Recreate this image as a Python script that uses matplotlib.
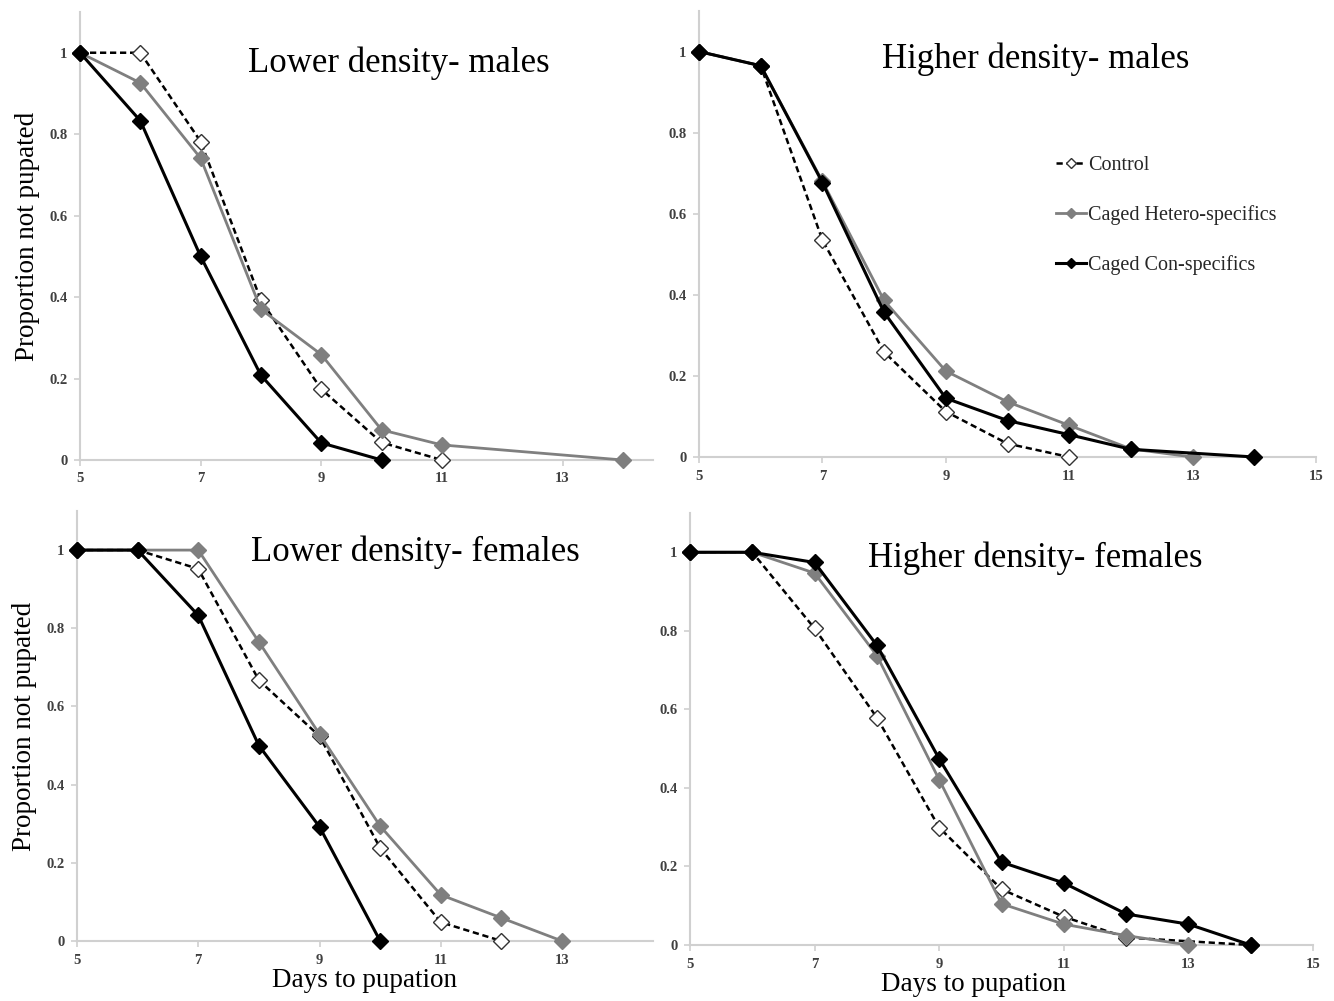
import matplotlib
matplotlib.use("Agg")
import matplotlib.pyplot as plt

plt.rcParams['font.family'] = ['Liberation Serif', 'DejaVu Serif']

# ---- data ----
# Lower density - males
ldm_ctrl_x = [5, 6, 7, 8, 9, 10, 11]
ldm_ctrl_y = [1, 1, 0.782, 0.392, 0.174, 0.043, 0]
ldm_het_x = [5, 6, 7, 8, 9, 10, 11, 14]
ldm_het_y = [1, 0.926, 0.741, 0.370, 0.259, 0.074, 0.037, 0]
ldm_con_x = [5, 6, 7, 8, 9, 10]
ldm_con_y = [1, 0.833, 0.5, 0.208, 0.042, 0]

# Higher density - males
hdm_ctrl_x = [5, 6, 7, 8, 9, 10, 11]
hdm_ctrl_y = [1, 0.965, 0.535, 0.259, 0.112, 0.033, 0]
hdm_het_x = [5, 6, 7, 8, 9, 10, 11, 12, 13]
hdm_het_y = [1, 0.965, 0.68, 0.386, 0.212, 0.136, 0.078, 0.02, 0]
hdm_con_x = [5, 6, 7, 8, 9, 10, 11, 12, 14]
hdm_con_y = [1, 0.965, 0.677, 0.357, 0.145, 0.09, 0.055, 0.019, 0]

# Lower density - females
ldf_ctrl_x = [5, 6, 7, 8, 9, 10, 11, 12]
ldf_ctrl_y = [1, 1, 0.952, 0.667, 0.524, 0.238, 0.048, 0]
ldf_het_x = [5, 6, 7, 8, 9, 10, 11, 12, 13]
ldf_het_y = [1, 1, 1, 0.765, 0.529, 0.294, 0.118, 0.059, 0]
ldf_con_x = [5, 6, 7, 8, 9, 10]
ldf_con_y = [1, 1, 0.833, 0.5, 0.292, 0]

# Higher density - females
hdf_ctrl_x = [5, 6, 7, 8, 9, 10, 11, 12, 14]
hdf_ctrl_y = [1, 1, 0.806, 0.579, 0.299, 0.142, 0.072, 0.019, 0]
hdf_het_x = [5, 6, 7, 8, 9, 10, 11, 12, 13]
hdf_het_y = [1, 1, 0.947, 0.737, 0.421, 0.105, 0.053, 0.024, 0]
hdf_con_x = [5, 6, 7, 8, 9, 10, 11, 12, 13, 14]
hdf_con_y = [1, 1, 0.974, 0.763, 0.474, 0.211, 0.158, 0.079, 0.053, 0]

titles = ["Lower density- males", "Higher density- males",
          "Lower density- females", "Higher density- females"]
series_labels = ["Control", "Caged Hetero-specifics", "Caged Con-specifics"]
yticks = [0, 0.2, 0.4, 0.6, 0.8, 1]
ytick_labels = ["0", "0.2", "0.4", "0.6", "0.8", "1"]
xticks_left = [5, 7, 9, 11, 13]
xticks_right = [5, 7, 9, 11, 13, 15]
xlabel = "Days to pupation"
ylabel = "Proportion not pupated"

panels = [
    (ldm_ctrl_x, ldm_ctrl_y, ldm_het_x, ldm_het_y, ldm_con_x, ldm_con_y),
    (hdm_ctrl_x, hdm_ctrl_y, hdm_het_x, hdm_het_y, hdm_con_x, hdm_con_y),
    (ldf_ctrl_x, ldf_ctrl_y, ldf_het_x, ldf_het_y, ldf_con_x, ldf_con_y),
    (hdf_ctrl_x, hdf_ctrl_y, hdf_het_x, hdf_het_y, hdf_con_x, hdf_con_y),
]

W, H = 1334, 1001
fig = plt.figure(figsize=(W / 100, H / 100), dpi=100)

# axes rectangles in pixels: left, right, top, bottom
rects = [(80, 653, 12, 460), (699, 1316, 11, 457),
         (77, 653, 511, 941), (690, 1313, 513, 945)]
xlims = [(5, 14.5), (5, 15), (5, 14.5), (5, 15)]
title_pos = [(0.557, 0.886), (0.546, 0.892), (0.587, 0.904), (0.554, 0.895)]

GRAY = '#7f7f7f'
AXC = '#d0d0d0'

axes = []
for i, (l, r, t, b) in enumerate(rects):
    ax = fig.add_axes([l / W, 1 - b / H, (r - l) / W, (b - t) / H])
    axes.append(ax)
    cx, cy, hx, hy, kx, ky = panels[i]
    ax.plot(cx, cy, linestyle=(0, (2.5, 1.5)), color='black', lw=1.8,
            marker='D', markersize=8, markerfacecolor='white',
            markeredgecolor='#333333', markeredgewidth=1.0, zorder=3,
            label=series_labels[0])
    ax.plot(hx, hy, linestyle='-', color=GRAY, lw=2.0,
            marker='D', markersize=8, markerfacecolor=GRAY,
            markeredgecolor=GRAY, zorder=4, label=series_labels[1])
    ax.plot(kx, ky, linestyle='-', color='black', lw=2.2,
            marker='D', markersize=8, markerfacecolor='black',
            markeredgecolor='black', zorder=5, label=series_labels[2])
    ax.set_xlim(*xlims[i])
    ax.set_ylim(0, 1.1)
    ax.set_yticks(yticks)
    ax.set_yticklabels(ytick_labels)
    ax.set_xticks(xticks_left if i in (0, 2) else xticks_right)
    for s in ['top', 'right']:
        ax.spines[s].set_visible(False)
    for s in ['left', 'bottom']:
        ax.spines[s].set_color(AXC)
        ax.spines[s].set_linewidth(1.5)
    ax.tick_params(axis='both', length=4, width=1.2, color=AXC,
                   labelsize=10.5, labelcolor='#404040', pad=5)
    for lab in ax.get_xticklabels() + ax.get_yticklabels():
        lab.set_fontweight('bold')
    ax.text(title_pos[i][0], title_pos[i][1], titles[i], transform=ax.transAxes,
            ha='center', va='center', fontsize=25, color='black')
    for ln in ax.lines:
        ln.set_clip_on(False)

axes[0].set_ylabel(ylabel, fontsize=19.5, labelpad=7)
axes[2].set_ylabel(ylabel, fontsize=19.5, labelpad=7)
axes[2].set_xlabel(xlabel, fontsize=19.5)
axes[3].set_xlabel(xlabel, fontsize=19.5)
axes[2].xaxis.set_label_coords(0.5, -0.062)
axes[3].xaxis.set_label_coords(0.455, -0.062)

handles = axes[1].get_lines()
leg = axes[1].legend(handles, series_labels, loc='upper left',
                     bbox_to_anchor=(0.565, 0.694), frameon=False,
                     fontsize=14.5, handlelength=1.5, handletextpad=0.1,
                     labelspacing=1.5, markerscale=0.7, borderaxespad=0)
for txt in leg.get_texts():
    txt.set_color('#262626')

fig.savefig('out.png', dpi=100, facecolor='white')
